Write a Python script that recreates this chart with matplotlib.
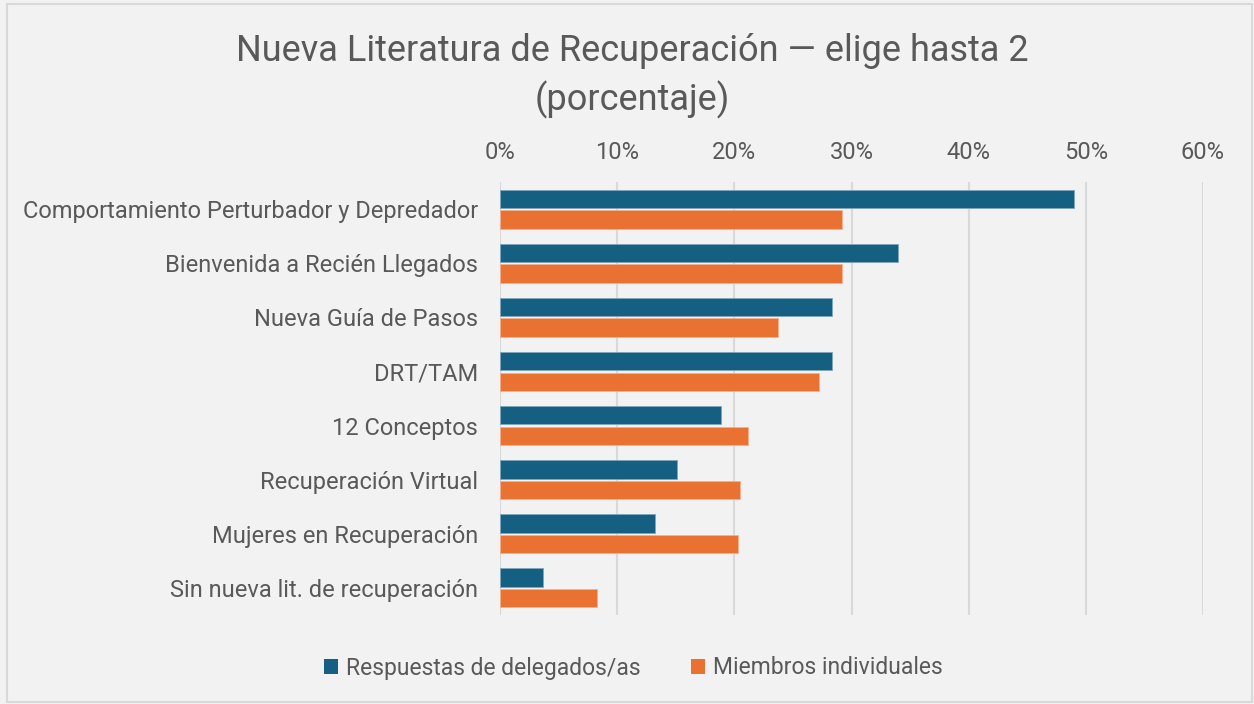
import matplotlib
matplotlib.use("Agg")
import matplotlib.pyplot as plt
from matplotlib.patches import Patch, Rectangle
from matplotlib.ticker import PercentFormatter
import numpy as np

categories = [
    "Comportamiento Perturbador y Depredador",
    "Bienvenida a Recién Llegados",
    "Nueva Guía de Pasos",
    "DRT/TAM",
    "12 Conceptos",
    "Recuperación Virtual",
    "Mujeres en Recuperación",
    "Sin nueva lit. de recuperación",
]
delegados = [49.0, 34.0, 28.3, 28.3, 18.9, 15.1, 13.2, 3.7]
miembros = [29.2, 29.2, 23.7, 27.2, 21.2, 20.5, 20.3, 8.3]
series_names = ["Respuestas de delegados/as", "Miembros individuales"]
xticks = [0, 10, 20, 30, 40, 50, 60]
title = "Nueva Literatura de Recuperación — elige hasta 2\n(porcentaje)"

BLUE = "#156082"
ORANGE = "#E97132"
TXT = "#595959"
BG = "#f2f2f2"
GRID = "#d9d9d9"

plt.rcParams["font.family"] = ["Roboto", "DejaVu Sans"]

fig = plt.figure(figsize=(12.54, 7.04), dpi=100, facecolor=BG)
fig.patches.append(Rectangle((7/1254, 2/704), 1245/1254, 698/704, transform=fig.transFigure,
                             fill=False, edgecolor=GRID, linewidth=1.5, zorder=-5))

ax = fig.add_axes([500/1254, 1-615/704, 703/1254, 433/704])
ax.set_facecolor(BG)

y = np.arange(len(categories))
h = 0.34
ax.barh(y - 0.19, delegados, height=h, color=BLUE, edgecolor="#7fa6bb", linewidth=0.6, zorder=3, label=series_names[0])
ax.barh(y + 0.19, miembros, height=h, color=ORANGE, edgecolor="#f3b08f", linewidth=0.6, zorder=3, label=series_names[1])

ax.set_xlim(0, 60)
ax.set_ylim(len(categories) - 0.5, -0.5)
ax.set_xticks(xticks)
ax.xaxis.set_major_formatter(PercentFormatter(decimals=0))
ax.xaxis.tick_top()
ax.tick_params(axis="x", length=0, pad=13, labelsize=17, labelcolor=TXT)
ax.set_yticks(y)
ax.set_yticklabels(categories)
ax.tick_params(axis="y", length=0, pad=16, labelsize=17, labelcolor=TXT)
ax.grid(axis="x", color=GRID, linewidth=1.5, zorder=0)
for s in ax.spines.values():
    s.set_visible(False)

fig.text(0.504, 1-76/704, title, ha="center", va="center", fontsize=26, color=TXT, linespacing=1.38)

handles = [Patch(facecolor=BLUE), Patch(facecolor=ORANGE)]
fig.legend(handles, series_names, loc="center", bbox_to_anchor=(0.505, 1-668/704), ncol=2,
           frameon=False, fontsize=16.5, labelcolor=TXT, handlelength=0.6, handleheight=0.6,
           handletextpad=0.35, columnspacing=2.2)

fig.savefig("out.png", dpi=100, facecolor=BG)
